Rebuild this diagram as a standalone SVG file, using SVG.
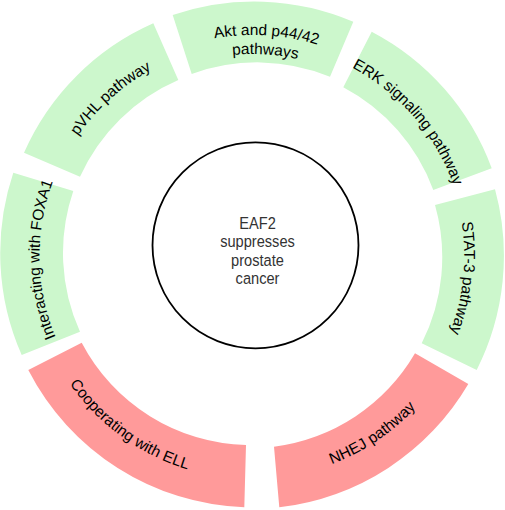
<svg xmlns="http://www.w3.org/2000/svg" width="505" height="510" viewBox="0 0 505 510">
<style>
.g{fill:#ccf7cc}
.r{fill:#ff9a9a}
.lbl{font-family:"Liberation Sans",Arial,sans-serif;font-size:15.5px;fill:#000}
.ctr{font-family:"Liberation Sans",Arial,sans-serif;font-size:17px;fill:#333;text-anchor:middle}
</style>
<defs>
<path id="pAkt1" d="M31.93,242.13 A221,221 0 0 1 473.07,269.87"/>
<path id="pAkt2" d="M50.4,243.29 A202.5,202.5 0 0 1 454.6,268.71"/>
<path id="pVHL" d="M94.21,398.52 A213,213 0 0 1 410.79,113.48"/>
<path id="pERK" d="M113.6,94.52 A213,213 0 0 1 391.4,417.48"/>
<path id="pSTAT" d="M274.76,44.17 A213,213 0 0 1 230.24,467.83"/>
<path id="pFOX" d="M256.22,468.97 A213,213 0 0 1 248.78,43.03"/>
<path id="pCoop" d="M71.28,124.34 A224,224 0 0 0 433.72,387.66"/>
<path id="pNHEJ" d="M66.8,381.26 A224,224 0 0 0 438.2,130.74"/>
</defs>
<rect width="505" height="510" fill="#fff"/>
<g id="connectors"/>
<g id="akt">
<path class="g" d="M172.7,15 A253,253 0 0 1 353.3,21.7 L330,76.7 A191,191 0 0 0 191.7,74 Z"/>
<text class="lbl"><textPath href="#pAkt1" startOffset="50%" text-anchor="middle">Akt and p44/42</textPath></text>
<text class="lbl"><textPath href="#pAkt2" startOffset="50%" text-anchor="middle">pathways</textPath></text>
</g>
<g id="erk">
<path class="g" d="M371.7,31.7 A253,253 0 0 1 491.7,168.3 L433.3,190 A191,191 0 0 0 343.3,87.3 Z"/>
<text class="lbl"><textPath href="#pERK" startOffset="50%" text-anchor="middle">ERK signaling pathway</textPath></text>
</g>
<g id="stat3">
<path class="g" d="M495,189.3 A253,253 0 0 1 476.7,370 L421.7,343.3 A191,191 0 0 0 435,205 Z"/>
<text class="lbl"><textPath href="#pSTAT" startOffset="50%" text-anchor="middle">STAT-3 pathway</textPath></text>
</g>
<g id="nhej">
<path class="r" d="M468.3,384 A253,253 0 0 1 279.3,507.3 L274,446.7 A191,191 0 0 0 415,353.3 Z"/>
<text class="lbl"><textPath href="#pNHEJ" startOffset="50%" text-anchor="middle">NHEJ pathway</textPath></text>
</g>
<g id="ell">
<path class="r" d="M244.3,507.3 A253,253 0 0 1 28.3,370 L81.7,342.7 A191,191 0 0 0 246,445 Z"/>
<text class="lbl"><textPath href="#pCoop" startOffset="50%" text-anchor="middle">Cooperating with ELL</textPath></text>
</g>
<g id="foxa1">
<path class="g" d="M21.7,355 A253,253 0 0 1 13.3,172.7 L73.3,191 A191,191 0 0 0 80,331.7 Z"/>
<text class="lbl"><textPath href="#pFOX" startOffset="50%" text-anchor="middle">Interacting with FOXA1</textPath></text>
</g>
<g id="pvhl">
<path class="g" d="M24,152.7 A253,253 0 0 1 153.3,23.3 L178.3,80 A191,191 0 0 0 80,176.7 Z"/>
<text class="lbl"><textPath href="#pVHL" startOffset="50%" text-anchor="middle">pVHL pathway</textPath></text>
</g>
<g id="center">
<circle cx="255.5" cy="245.3" r="103" fill="#fff" stroke="#000" stroke-width="1.8"/>
<g transform="translate(257.5 0) scale(0.86 1)">
<text class="ctr" x="0" y="229">EAF2</text>
<text class="ctr" x="0" y="247.5">suppresses</text>
<text class="ctr" x="0" y="266">prostate</text>
<text class="ctr" x="0" y="284.5">cancer</text>
</g>
</g>
</svg>
